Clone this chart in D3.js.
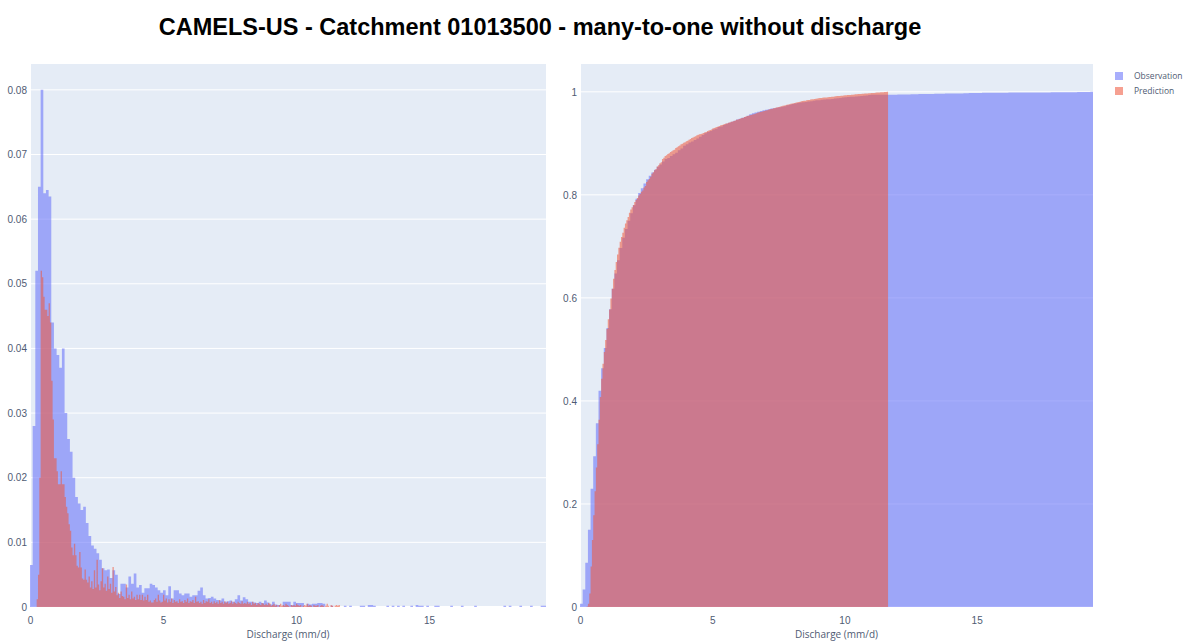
<!DOCTYPE html>
<html>
<head>
<meta charset="utf-8">
<script src="https://cdn.jsdelivr.net/npm/d3@7"></script>
<style>
  body { margin: 0; background: #fff; }
  svg { display: block; font-family: "Open Sans", "DejaVu Sans", sans-serif; }
</style>
</head>
<body>
<svg id="chart" width="1193" height="644"></svg>
<script>
// histogram bins (probability per bin)
const obsStart = 0, obsWidth = 0.1;
const obsProb = [
  0.0065, 0.028, 0.052, 0.065, 0.080, 0.064, 0.0645, 0.0635, 0.044, 0.040,
  0.039, 0.037, 0.040, 0.030, 0.026, 0.024, 0.020, 0.017, 0.016, 0.015,
  0.0155, 0.013, 0.011, 0.0095, 0.009, 0.0083, 0.0073, 0.0060, 0.0057, 0.0058,
  0.0045, 0.0057, 0.0050, 0.0020, 0.0036, 0.0036, 0.0030, 0.0047, 0.0036, 0.0052,
  0.0030, 0.0034, 0.0022, 0.0029, 0.0029, 0.0036, 0.0034, 0.0030, 0.0026, 0.0022,
  0.0026, 0.0018, 0.0032, 0.0013, 0.0026, 0.0026, 0.0021, 0.0018, 0.0021, 0.0021,
  0.0016, 0.0018, 0.0018, 0.0025, 0.0030, 0.0018, 0.0013, 0.0014, 0.0016, 0.0013,
  0.0011, 0.0010, 0.0013, 0.0008, 0.0009, 0.0010, 0.0008, 0.0012, 0.0018, 0.0010,
  0.0015, 0.0012, 0.0008, 0.0008, 0.0007, 0.0006, 0.0008, 0.0006, 0.0010, 0.0007,
  0.0004, 0.0008, 0.0004, 0.0003, 0, 0.0008, 0.0008, 0.0008, 0.0003, 0.0008,
  0.0006, 0.0006, 0.0006, 0, 0.0005, 0.0004, 0.0005, 0.0005, 0.0006, 0.0006,
  0.0005, 0, 0, 0.0002, 0, 0, 0, 0, 0.0002, 0,
  0.0002, 0, 0, 0, 0.0002, 0.0002, 0, 0.0003, 0.0003, 0.0002,
  0, 0, 0, 0, 0.0002, 0, 0.0002, 0, 0.0002, 0,
  0.0002, 0, 0, 0.0002, 0, 0.0003, 0.0002, 0.0002, 0, 0.0002,
  0, 0, 0.0002, 0.0002, 0, 0, 0, 0, 0.0002, 0,
  0, 0, 0.0002, 0, 0, 0, 0, 0.0002, 0, 0,
  0, 0, 0, 0, 0, 0, 0, 0, 0.0002, 0,
  0.0002, 0, 0, 0, 0.0002, 0, 0, 0, 0.0002, 0,
  0, 0, 0.0002, 0.0002
];

const predStart = 0.25, predWidth = 0.05;
const predProb = [
  // 0.25 - 0.80
  0.0012, 0.005, 0.020, 0.052, 0.051, 0.048, 0.046, 0.046, 0.045, 0.047, 0.044,
  // 0.80 - 1.15
  0.035, 0.029, 0.023, 0.023, 0.021, 0.019, 0.019,
  // 1.15 - 2.20
  0.021, 0.019, 0.019, 0.017, 0.0155, 0.0145, 0.0128, 0.0118, 0.0092, 0.008,
  0.0098, 0.008, 0.0064, 0.0061, 0.0085, 0.0061, 0.0044, 0.0042, 0.0058, 0.0042, 0.0038,
  // 2.20 - 3.00
  0.0047, 0.003, 0.004, 0.0028, 0.0057, 0.003, 0.0073, 0.0035,
  0.0026, 0.004, 0.006, 0.003, 0.0036, 0.0025, 0.0047, 0.0028,
  // 3.00 - 5.20
  0.0036, 0.0022, 0.0062, 0.0024, 0.0031, 0.0018, 0.0022, 0.0014, 0.0024, 0.0017,
  0.0016, 0.0012, 0.0035, 0.0014, 0.0019, 0.0012, 0.0024, 0.0013, 0.0016, 0.0011,
  0.0019, 0.0012, 0.0019, 0.0011, 0.0019, 0.0010, 0.0016, 0.0011, 0.0019, 0.0008,
  0.0010, 0.0007, 0.0007, 0.0011, 0.0013, 0.0008, 0.0019, 0.0010, 0.0007, 0.0008,
  0.0019, 0.0010, 0.0013, 0.0007,
  // 5.20 - 9.00
  0.0012, 0.0008, 0.0013, 0.0006, 0.0011, 0.0008, 0.0009, 0.0006, 0.0012, 0.0008,
  0.0009, 0.0006, 0.0011, 0.0008, 0.0013, 0.0006, 0.0009, 0.0008, 0.0011, 0.0006,
  0.0016, 0.0008, 0.0009, 0.0006, 0.0008, 0.0005, 0.0011, 0.0006, 0.0009, 0.0008,
  0.0012, 0.0006, 0.0008, 0.0005, 0.0009, 0.0006, 0.0008, 0.0005, 0.0011, 0.0006,
  0.0008, 0.0005, 0.0009, 0.0006, 0.0008, 0.0005, 0.0006, 0.0009, 0.0005, 0.0008,
  0.0006, 0.0005, 0.0008, 0.0006, 0.0005, 0.0009, 0.0005, 0.0006, 0.0005, 0.0008,
  0.0005, 0.0006, 0.0003, 0.0008, 0.0005, 0.0006, 0.0003, 0.0006, 0.0005, 0.0003,
  0.0006, 0.0005, 0.0003, 0.0005, 0.0003, 0.0006,
  // 9.00 - 11.65
  0.0005, 0.0002, 0.0003, 0.0005, 0.0002, 0.0003, 0, 0.0003, 0.0005, 0.0002,
  0.0003, 0.0002, 0.0005, 0.0003, 0.0002, 0, 0.0003, 0.0002, 0.0003, 0.0002,
  0.0005, 0.0003, 0.0002, 0.0003, 0, 0.0002, 0.0003, 0.0002, 0.0005, 0.0002,
  0.0003, 0.0002, 0, 0.0003, 0.0002, 0.0002, 0.0003, 0, 0.0002, 0.0003,
  0.0002, 0, 0.0002, 0.0005, 0.0002, 0, 0.0003, 0.0002, 0, 0.0002,
  0.0003, 0.0002, 0.0003
];

const titleText = "CAMELS-US - Catchment 01013500 - many-to-one without discharge";
const seriesNames = ["Observation", "Prediction"];
const seriesColors = ["#636efa", "#ef553b"];
const xTicks = [0, 5, 10, 15];
const leftYTicks = [0, 0.01, 0.02, 0.03, 0.04, 0.05, 0.06, 0.07, 0.08];
const rightYTicks = [0, 0.2, 0.4, 0.6, 0.8, 1];
const xTitle = "Discharge (mm/d)";

const svg = d3.select("#chart");
const plotTop = 64, plotBottom = 607;
const barOpacity = 0.56;
const tickColor = "#4f5b73";

svg.append("text")
  .attr("x", 540).attr("y", 35)
  .attr("text-anchor", "middle")
  .style("font-family", "'Liberation Sans', Arial, sans-serif")
  .style("font-weight", "bold")
  .style("font-size", "23.5px")
  .attr("fill", "#000")
  .text(titleText);

// bins -> [{x0, x1, v}]
function toBins(start, width, vals) {
  return vals.map((v, i) => ({x0: start + i * width, x1: start + (i + 1) * width, v: v}));
}
// cumulative version, normalised so the last bar sits at 1
function toCum(bins) {
  const total = d3.sum(bins, d => d.v);
  const cs = d3.cumsum(bins, d => d.v);
  return bins.map((b, i) => ({x0: b.x0, x1: b.x1, v: cs[i] / total}));
}

const obsBins = toBins(obsStart, obsWidth, obsProb);
const predBins = toBins(predStart, predWidth, predProb);
const xMax = obsBins[obsBins.length - 1].x1;

function drawPanel(left, right, series, yMax, yTicks, fmt) {
  const x = d3.scaleLinear().domain([0, xMax]).range([left, right]);
  const y = d3.scaleLinear().domain([0, yMax]).range([plotBottom, plotTop]);
  const g = svg.append("g");

  g.append("rect")
    .attr("x", left).attr("y", plotTop)
    .attr("width", right - left).attr("height", plotBottom - plotTop)
    .attr("fill", "#e5ecf6");

  g.selectAll(".grid")
    .data(yTicks.filter(t => t > 0))
    .enter().append("line")
      .attr("x1", left).attr("x2", right)
      .attr("y1", d => y(d)).attr("y2", d => y(d))
      .attr("stroke", "#fff").attr("stroke-width", 1);

  // zero lines
  g.append("line").attr("x1", left).attr("x2", right)
    .attr("y1", y(0)).attr("y2", y(0))
    .attr("stroke", "#fff").attr("stroke-width", 2);
  g.append("line").attr("x1", x(0)).attr("x2", x(0))
    .attr("y1", plotTop).attr("y2", plotBottom)
    .attr("stroke", "#fff").attr("stroke-width", 2);

  // each trace as a stepped outline of its bars
  series.forEach((bins, k) => {
    const pts = [];
    bins.forEach(b => { pts.push([b.x0, b.v]); pts.push([b.x1, b.v]); });
    const area = d3.area()
      .x(d => x(d[0]))
      .y0(y(0))
      .y1(d => y(d[1]));
    g.append("path")
      .attr("d", area(pts))
      .attr("fill", seriesColors[k])
      .attr("fill-opacity", barOpacity);
  });

  const xAxis = g.append("g").attr("transform", `translate(0,${plotBottom})`)
    .call(d3.axisBottom(x).tickValues(xTicks).tickSize(0).tickPadding(10).tickFormat(d3.format("d")));
  xAxis.select(".domain").remove();
  xAxis.selectAll("text").style("font-size", "10px").attr("fill", tickColor);

  const yAxis = g.append("g").attr("transform", `translate(${left},0)`)
    .call(d3.axisLeft(y).tickValues(yTicks).tickSize(0).tickPadding(3).tickFormat(fmt));
  yAxis.select(".domain").remove();
  yAxis.selectAll("text").style("font-size", "10px").attr("fill", tickColor);

  g.append("text")
    .attr("x", (left + right) / 2).attr("y", 638)
    .attr("text-anchor", "middle")
    .style("font-size", "10px")
    .attr("fill", tickColor)
    .text(xTitle);
}

const yFmt = d => d === 0 ? "0" : d3.format("~g")(d);

drawPanel(30, 546, [obsBins, predBins], d3.max(obsProb) * 1.05, leftYTicks, yFmt);
drawPanel(580, 1093, [toCum(obsBins), toCum(predBins)], 1.054, rightYTicks, yFmt);

// legend
const legend = svg.append("g").attr("transform", "translate(1115,72)");
seriesNames.forEach((name, i) => {
  const row = legend.append("g").attr("transform", `translate(0,${i * 15})`);
  row.append("rect").attr("width", 8).attr("height", 8)
    .attr("fill", seriesColors[i]).attr("fill-opacity", barOpacity);
  row.append("text").attr("x", 19).attr("y", 7)
    .style("font-size", "8.5px").attr("fill", tickColor)
    .text(name);
});
</script>
</body>
</html>
